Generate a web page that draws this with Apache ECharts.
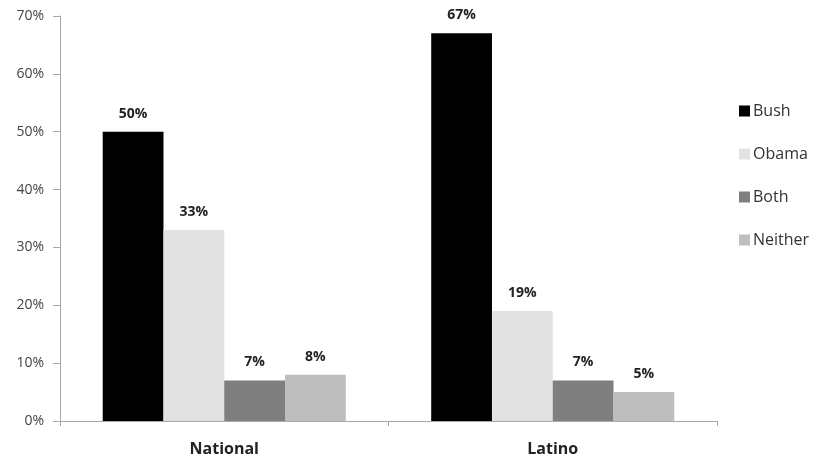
<!DOCTYPE html>
<html>
<head>
<meta charset="utf-8">
<script src="https://cdn.jsdelivr.net/npm/echarts@6/dist/echarts.min.js"></script>
<style>
  html, body { margin: 0; padding: 0; background: #fff; }
  #chart { width: 828px; height: 464px; }
</style>
</head>
<body>
<div id="chart"></div>
<script>
var categories = ['National', 'Latino'];
var seriesNames = ['Bush', 'Obama', 'Both', 'Neither'];
var bushVals = [50, 67];
var obamaVals = [33, 19];
var bothVals = [7, 7];
var neitherVals = [8, 5];
var yTicks = [0, 10, 20, 30, 40, 50, 60, 70];

var colors = ['#000000', '#e2e2e2', '#7f7f7f', '#bebebe'];
var values = [bushVals, obamaVals, bothVals, neitherVals];

var chart = echarts.init(document.getElementById('chart'));

var series = seriesNames.map(function (name, i) {
  return {
    name: name,
    type: 'bar',
    data: values[i],
    barGap: '0%',
    barCategoryGap: '26%',
    itemStyle: { color: colors[i] },
    label: {
      show: true,
      position: 'top',
      distance: 11,
      formatter: '{c}%',
      fontFamily: 'Open Sans',
      fontWeight: 'bold',
      fontSize: 14,
      color: '#222'
    }
  };
});

chart.setOption({
  animation: false,
  grid: { left: 60, right: 111, top: 16, bottom: 43 },
  legend: {
    orient: 'vertical',
    left: 734,
    top: 98,
    itemWidth: 11,
    itemHeight: 11,
    itemGap: 27,
    icon: 'rect',
    textStyle: { fontFamily: 'Open Sans', fontSize: 16, color: '#333', padding: [0, 0, 0, -2] },
    data: seriesNames
  },
  xAxis: {
    type: 'category',
    data: categories,
    axisLine: { lineStyle: { color: '#a8a8a8', width: 1 } },
    axisTick: { show: true, length: 5, lineStyle: { color: '#a8a8a8' } },
    axisLabel: {
      margin: 20,
      fontFamily: 'Open Sans',
      fontWeight: 'bold',
      fontSize: 16,
      color: '#222'
    }
  },
  yAxis: {
    type: 'value',
    min: yTicks[0],
    max: yTicks[yTicks.length - 1],
    interval: 10,
    axisLine: { show: true, lineStyle: { color: '#a8a8a8', width: 1 } },
    axisTick: { show: true, length: 7, lineStyle: { color: '#a8a8a8' } },
    splitLine: { show: false },
    axisLabel: {
      margin: 16,
      formatter: '{value}%',
      fontFamily: 'Open Sans',
      fontSize: 14,
      color: '#444'
    }
  },
  series: series
});
</script>
</body>
</html>
